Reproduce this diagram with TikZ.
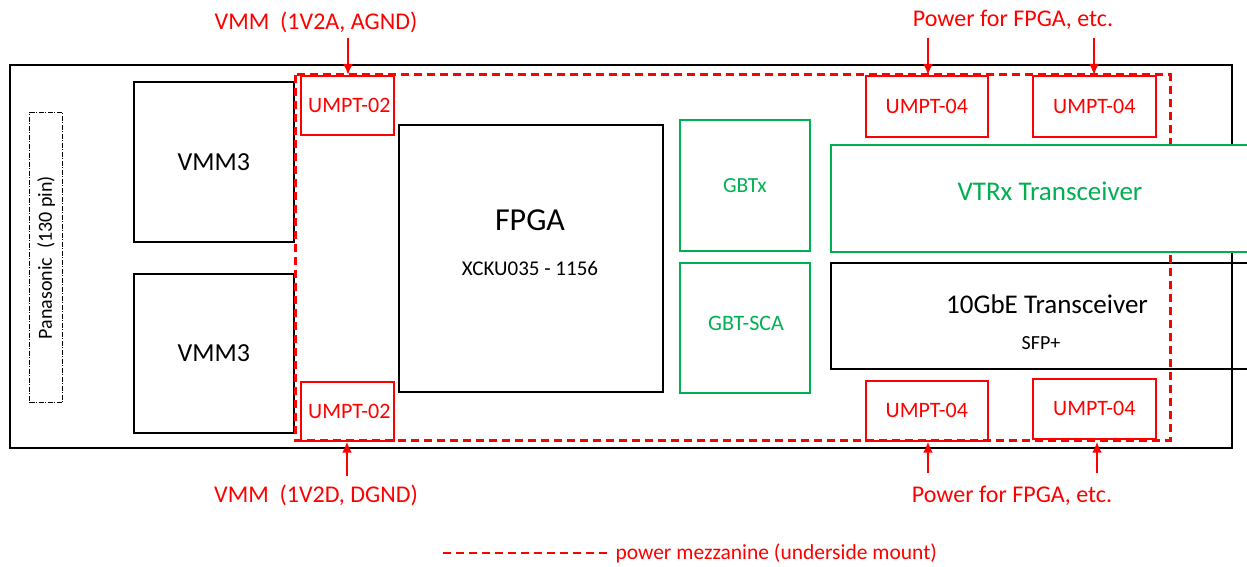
\documentclass[tikz,border=0pt]{standalone}
\usepackage{fontspec}
\setmainfont{Carlito}
\usetikzlibrary{positioning, arrows.meta}

\definecolor{pwrred}{RGB}{255,0,0}
\definecolor{chipgreen}{RGB}{0,176,80}

\begin{document}
\begin{tikzpicture}[x=1pt, y=-1pt, line join=miter, >={Latex[length=11pt,width=10pt]},
	blk/.style={draw=black, line width=1.6pt, inner sep=0pt, anchor=north west},
	grn/.style={draw=chipgreen, line width=1.6pt, text=chipgreen, inner sep=0pt, anchor=north west},
	umpt/.style={draw=pwrred, line width=1.6pt, text=pwrred, inner sep=0pt, anchor=north west, font=\fontsize{22}{24}\selectfont},
	mezz/.style={draw=pwrred, line width=3pt, dash pattern=on 8pt off 5pt},
	pwrlbl/.style={text=pwrred, font=\fontsize{24}{26}\selectfont},
	feed/.style={->, draw=pwrred, line width=2.4pt}]
	
	% Rahmen des Bildes
	\useasboundingbox (0,0) rectangle (1247,567);
	
	% --- Platine ---
	\draw[line width=1.6pt] (10,65) rectangle (1232,448);
	
	% --- Stecker (Panasonic) ---
	\node[draw, line width=1.2pt, dash pattern=on 5pt off 1.5pt on 1pt off 1.5pt, inner sep=0pt,
		anchor=north west, minimum width=33pt, minimum height=290pt] (conn) at (29,112) {};
	\node[rotate=90, font=\fontsize{20}{22}\selectfont] (connname) at (conn.center) {Panasonic\ \ (130 pin)};
	
	% --- VMM3 Chips ---
	\node[blk, minimum width=160pt, minimum height=160pt, font=\fontsize{26}{28}\selectfont] (vmmtop) at (133,81) {VMM3};
	\node[blk, minimum width=160pt, minimum height=159pt, font=\fontsize{26}{28}\selectfont] (vmmbot) at (133,273) {VMM3};
	
	% --- FPGA ---
	\node[blk, minimum width=264pt, minimum height=267pt] (fpga) at (398,124) {};
	\node[font=\fontsize{32}{34}\selectfont] (fpganame) at (530,220) {FPGA};
	\node[font=\fontsize{21}{23}\selectfont] (fpgapart) at (530,268) {XCKU035 - 1156};
	
	% --- GBT Chips ---
	\node[grn, minimum width=130pt, minimum height=131pt, font=\fontsize{21.5}{23}\selectfont] (gbtx) at (679,119) {GBTx};
	\node[grn, minimum width=130pt, minimum height=130pt] (gbtsca) at (679,262) {};
	\node[text=chipgreen, font=\fontsize{22}{24}\selectfont] (gbtscaname) at (746,323) {GBT-SCA};
	
	% --- Stromversorgung (UMPT) ---
	\node[umpt, minimum width=93pt, minimum height=59pt] (u02a) at (300,75) {\hspace{4pt}UMPT-02};
	\node[umpt, minimum width=93pt, minimum height=59pt] (u02b) at (300,381) {\hspace{4pt}UMPT-02};
	\node[umpt, minimum width=122pt, minimum height=61pt] (u04a) at (865,75) {UMPT-04};
	\node[umpt, minimum width=123pt, minimum height=61pt] (u04b) at (1032,75) {UMPT-04};
	\node[umpt, minimum width=122pt, minimum height=60pt] (u04c) at (865,380) {UMPT-04};
	\node[umpt, minimum width=123pt, minimum height=60pt] (u04d) at (1032,378) {UMPT-04};
	
	% --- 10GbE (ohne Fuellung) ---
	\node[blk, minimum width=440pt, minimum height=106pt] (sfp) at (830,262) {};
	\node[font=\fontsize{27}{29}\selectfont] (sfpname) at (1047,304) {10GbE Transceiver};
	\node[font=\fontsize{20}{22}\selectfont] (sfptype) at (1041,343) {SFP+};
	
	% Mezzanine (gestrichelt)
	\draw[mezz] (295,75) rectangle (1170,440);
	
	% --- VTRx (weiss gefuellt, deckt Linien ab) ---
	\node[grn, fill=white, minimum width=440pt, minimum height=107pt] (vtrx) at (830,144) {};
	\node[text=chipgreen, font=\fontsize{27}{29}\selectfont] (vtrxname) at (1050,191) {VTRx Transceiver};
	
	% --- Beschriftungen und Pfeile ---
	\node[pwrlbl] (vmmAlbl) at (316,22) {VMM\ \ (1V2A, AGND)};
	\node[pwrlbl] (vmmDlbl) at (316,495) {VMM\ \ (1V2D, DGND)};
	\node[pwrlbl] (fpgaTlbl) at (1013,20) {Power for FPGA, etc.};
	\node[pwrlbl] (fpgaBlbl) at (1012,496) {Power for FPGA, etc.};
	
	\coordinate (vmmAsrc) at (348,38);
	\coordinate (vmmDsrc) at (347,476);
	\coordinate (fpgaT1) at (928,38);
	\coordinate (fpgaT2) at (1094,38);
	\coordinate (fpgaB1) at (928,473);
	\coordinate (fpgaB2) at (1097,473);
	
	\draw[feed] (vmmAsrc) -- (vmmAsrc |- u02a.north);
	\draw[feed] (vmmDsrc) -- (vmmDsrc |- u02b.south);
	\draw[feed] (fpgaT1) -- (fpgaT1 |- u04a.north);
	\draw[feed] (fpgaT2) -- (fpgaT2 |- u04b.north);
	\draw[feed] (fpgaB1) -- (fpgaB1 |- u04c.south);
	\draw[feed] (fpgaB2) -- (fpgaB2 |- u04c.south);
	
	% --- Legende ---
	\coordinate (legA) at (443,553);
	\coordinate (legB) at (607,553);
	\draw[mezz, line width=2.4pt] (legA) -- (legB);
	\node[text=pwrred, anchor=west, font=\fontsize{21.5}{23}\selectfont] (legtext) at (612,553) {power mezzanine (underside mount)};
	
\end{tikzpicture}
\end{document}
